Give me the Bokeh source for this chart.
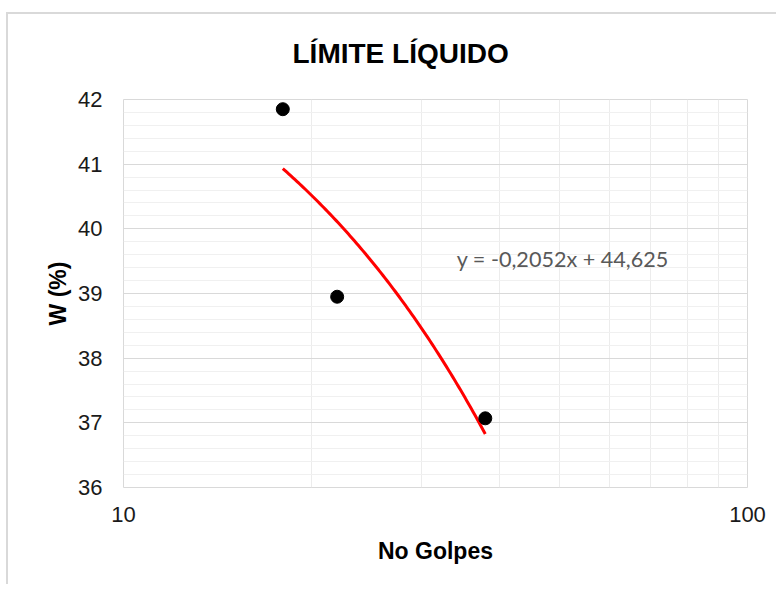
import numpy as np
from bokeh.plotting import figure
from bokeh.models import FixedTicker, Label
from bokeh.embed import file_html
from bokeh.resources import INLINE

# Data
golpes = [18, 22, 38]
humedad = [41.85, 38.95, 37.07]
slope = -0.2052
intercept = 44.625
equation = "y = -0,2052x + 44,625"
y_ticks = [36, 37, 38, 39, 40, 41, 42]
y_minor = [round(36 + 0.2 * i, 1) for i in range(31) if i % 5 != 0]
x_ticks = [10, 100]
x_minor = [20, 30, 40, 50, 60, 70, 80, 90]

p = figure(width=776, height=584, x_axis_type="log", x_range=(10, 100), y_range=(36, 42),
           output_backend="svg", toolbar_location=None,
           min_border_left=123, min_border_right=29, min_border_top=99, min_border_bottom=97)
p.background_fill_color = "white"
p.border_fill_color = None
p.outline_line_color = "#d9d9d9"
# Outer chart border drawn as CSS background lines (left and top edges)
p.styles = {
    "background": "linear-gradient(#d9d9d9, #d9d9d9) 6px 12px / 2px 100% no-repeat, "
                  "linear-gradient(#d9d9d9, #d9d9d9) 6px 12px / 100% 2px no-repeat, white"
}

# Title
p.title.text = "LÍMITE LÍQUIDO"
p.title.text_font = "Liberation Sans"
p.title.text_font_size = "28px"
p.title.text_font_style = "bold"
p.title.text_color = "black"
p.title.align = "left"
p.title.offset = 169
p.title.standoff = 62

# Axes
p.xaxis.ticker = FixedTicker(ticks=x_ticks, minor_ticks=x_minor)
p.yaxis.ticker = FixedTicker(ticks=y_ticks, minor_ticks=y_minor)
p.xaxis.major_label_overrides = {10: "10", 100: "100"}
for ax in (p.xaxis[0], p.yaxis[0]):
    ax.axis_line_color = None
    ax.major_tick_line_color = None
    ax.minor_tick_line_color = None
    ax.major_label_text_font = "Liberation Sans"
    ax.major_label_text_font_size = "22px"
    ax.major_label_text_color = "#1a1a1a"
    ax.axis_label_text_font = "Liberation Sans"
    ax.axis_label_text_font_size = "23px"
    ax.axis_label_text_font_style = "bold"
    ax.axis_label_text_color = "black"
p.xaxis.axis_label = "No Golpes"
p.yaxis.axis_label = "W (%)"
p.xaxis.major_label_standoff = 13
p.yaxis.major_label_standoff = 15
p.xaxis.axis_label_standoff = 13
p.yaxis.axis_label_standoff = 4

# Grids
p.ygrid.grid_line_color = "#d9d9d9"
p.ygrid.minor_grid_line_color = "#f0f0f0"
p.xgrid.grid_line_color = "#d9d9d9"
p.xgrid.minor_grid_line_color = "#ececec"

# Trendline
xs = np.geomspace(min(golpes), max(golpes), 100)
ys = slope * xs + intercept
p.line(xs, ys, line_color="#ff0000", line_width=3)

# Points
p.scatter(golpes, humedad, size=13, fill_color="black", line_color="black")

# Equation label
p.add_layout(Label(x=34.2, y=39.54, text=equation, text_font="Lato", text_font_size="21.6px",
                   text_color="#595959", text_baseline="middle", text_align="left"))

open("out.html", "w").write(file_html(p, INLINE))
